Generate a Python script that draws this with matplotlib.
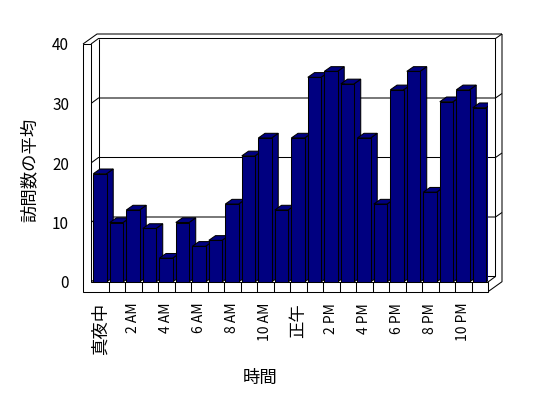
import matplotlib
matplotlib.use('Agg')
import matplotlib.pyplot as plt
from matplotlib.patches import Polygon

plt.rcParams['font.family'] = ['Noto Sans CJK JP', 'DejaVu Sans']

# 時間ごとの訪問数の平均
hours = list(range(24))
visits = [18.2, 10, 12.1, 9, 4, 10, 6, 7, 13.1, 21.2, 24.2, 12.1,
          24.2, 34.4, 35.4, 33.3, 24.2, 13.1, 32.3, 35.4, 15.1, 30.3, 32.3, 29.3]
tick_hours = list(range(0, 24, 2))
tick_labels = ['真夜中', '2 AM', '4 AM', '6 AM', '8 AM', '10 AM',
               '正午', '2 PM', '4 PM', '6 PM', '8 PM', '10 PM']
y_ticks = [0, 10, 20, 30, 40]

NAVY = '#000080'
LW = 0.75

fig = plt.figure(figsize=(5.48, 3.98), dpi=100)
ax = fig.add_axes([92 / 548, 116 / 398, 396 / 548, 238 / 398])
ax.set_xlim(0, 24)
ax.set_ylim(0, 40)
for s in ax.spines.values():
    s.set_visible(False)

# pixel -> data units
PX = 24 / 396
PY = 40 / 238
wl, wi = -9 * PX, -1 * PX        # left wall outer / inner
fb = -9.7 * PY                   # floor bottom
d1x, d1y = 7.5 * PX, 5.5 * PY    # back plane
d2x, d2y = 14 * PX, 10 * PY      # back wall outer
bdx, bdy = 6.7 * PX, 4.7 * PY    # bar depth
R = 24


def line(xs, ys, z=1):
    ax.plot(xs, ys, color='black', lw=LW, clip_on=False, zorder=z,
            solid_capstyle='butt')


# walls and floor
ax.add_patch(Polygon([(wl, 40), (wi, 40), (wi, 0), (R, 0), (R, fb), (wl, fb)],
                     closed=True, fc='white', ec='black', lw=LW,
                     clip_on=False, zorder=2))
line([wl, wl + d2x, R + d2x], [40, 40 + d2y, 40 + d2y])
line([wi, wi + d1x, R + d1x, R + d2x], [40, 40 + d1y, 40 + d1y, 40 + d2y])
line([wi + d1x, wi + d1x], [40 + d1y, d1y])
line([wi, wi + d1x, R + d1x, R + d1x], [0, d1y, d1y, 40 + d1y])
line([R, R + d1x], [0, d1y])
line([R + d2x, R + d2x, R], [40 + d2y, fb + d2y, fb])
for v in y_ticks[1:-1]:
    line([wl, wi, wi + d1x, R + d1x, R + d2x],
         [v, v, v + d1y, v + d1y, v + d2y])
for i in hours[1:]:
    line([i, i], [fb, 0], z=2.5)

# bars
w = 0.8
bars = ax.bar([h + 0.08 + w / 2 for h in hours], visits, width=w,
              color=NAVY, edgecolor='black', linewidth=LW)
for i, (b, v) in enumerate(zip(bars, visits)):
    x0 = b.get_x()
    z = 3 + i * 0.1
    side = Polygon([(x0 + w, 0), (x0 + w + bdx, bdy), (x0 + w + bdx, v + bdy), (x0 + w, v)],
                   closed=True, fc=NAVY, ec='black', lw=LW, zorder=z)
    top = Polygon([(x0, v), (x0 + w, v), (x0 + w + bdx, v + bdy), (x0 + bdx, v + bdy)],
                  closed=True, fc=NAVY, ec='black', lw=LW, zorder=z)
    ax.add_patch(side)
    ax.add_patch(top)
    b.set_zorder(z + 0.05)

# ticks
ax.set_yticks(y_ticks)
ax.set_yticklabels([str(t) for t in y_ticks], fontsize=11)
ax.set_xticks([h + 0.5 for h in tick_hours])
ax.set_xticklabels(tick_labels, rotation=90, fontsize=10)
for t in ax.get_xticklabels():
    if 'M' not in t.get_text():
        t.set_fontsize(12.5)
ax.tick_params(axis='y', length=0, pad=16.5)
ax.tick_params(axis='x', length=0, pad=15)

fig.text(30 / 548, 1 - 170 / 398, '訪問数の平均', rotation=90,
         ha='center', va='center', fontsize=12.5)
fig.text(260 / 548, 1 - 378 / 398, '時間', ha='center', va='center', fontsize=12.5)

fig.savefig('out.png', dpi=100, facecolor='white')
